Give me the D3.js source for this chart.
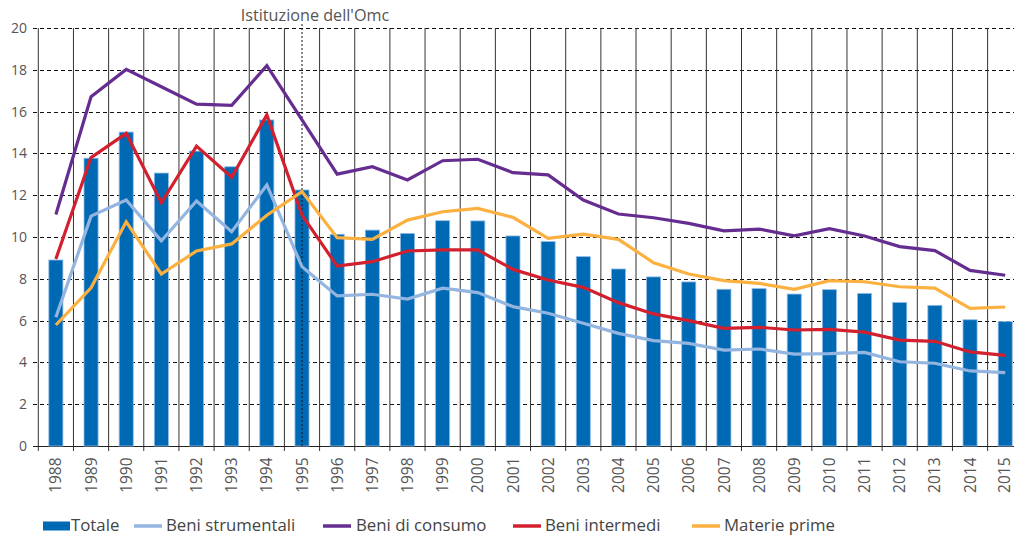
<!DOCTYPE html>
<html><head><meta charset="utf-8">
<script src="https://cdn.jsdelivr.net/npm/d3@7/dist/d3.min.js"></script>
<style>body{margin:0;background:#fff;}svg{display:block;font-family:"Open Sans",sans-serif;}</style>
</head><body><svg id="c" width="1014" height="535"></svg>
<script>
const years = ["1988","1989","1990","1991","1992","1993","1994","1995","1996","1997","1998","1999","2000","2001","2002","2003","2004","2005","2006","2007","2008","2009","2010","2011","2012","2013","2014","2015"];
const totale = [8.9,13.77,15.02,13.06,14.11,13.36,15.6,12.25,10.13,10.33,10.17,10.78,10.77,10.05,9.78,9.06,8.47,8.09,7.85,7.5,7.53,7.27,7.48,7.3,6.87,6.73,6.04,5.95];
const beniStrumentali = [6.16,11.0,11.77,9.82,11.72,10.25,12.49,8.58,7.18,7.26,7.03,7.55,7.34,6.67,6.35,5.87,5.39,5.04,4.91,4.59,4.64,4.4,4.42,4.48,4.03,3.96,3.59,3.51];
const beniConsumo = [11.08,16.71,18.02,17.19,16.36,16.3,18.2,15.6,13.01,13.36,12.73,13.65,13.72,13.08,12.97,11.77,11.1,10.92,10.65,10.29,10.38,10.06,10.4,10.05,9.54,9.35,8.4,8.17];
const beniIntermedi = [8.95,13.8,14.96,11.64,14.35,12.86,15.84,11.05,8.61,8.82,9.33,9.38,9.38,8.45,7.94,7.59,6.86,6.32,6.0,5.63,5.68,5.55,5.58,5.45,5.07,5.01,4.5,4.34];
const materiePrime = [5.79,7.57,10.73,8.23,9.33,9.67,11.04,12.17,9.97,9.89,10.81,11.21,11.37,10.94,9.94,10.14,9.89,8.77,8.23,7.91,7.78,7.5,7.91,7.86,7.62,7.55,6.59,6.65];
const yTicks = [0,2,4,6,8,10,12,14,16,18,20];
const annotationYear = "1995";
const annotationText = "Istituzione dell'Omc";

const series = [
  {name:"Beni strumentali", values:beniStrumentali, color:"#93b5e0"},
  {name:"Beni di consumo", values:beniConsumo, color:"#662d91"},
  {name:"Beni intermedi", values:beniIntermedi, color:"#d2202f"},
  {name:"Materie prime", values:materiePrime, color:"#fbb040"}
];
const barColor = "#0069b4";

const svg = d3.select("#c");
const x0 = 38.3, x1 = 38.3 + 28*35.16;
const x = d3.scaleBand().domain(years).range([x0, x1]).paddingInner(0.6).paddingOuter(0.3);
const y = d3.scaleLinear().domain([0,20]).range([446,28]);
const cx = d => x(d) + x.bandwidth()/2;

// horizontal dashed gridlines
svg.append("g").selectAll("line").data(yTicks.filter(t=>t>0)).join("line")
  .attr("x1",33).attr("x2",1014).attr("y1",d=>Math.round(y(d))+0.5).attr("y2",d=>Math.round(y(d))+0.5)
  .attr("stroke","#111").attr("stroke-width",1).attr("stroke-dasharray","4,3");

// vertical gridlines at band boundaries
const bounds = years.map(d => x(d) - x.step()*0.3);
svg.append("g").selectAll("line").data(bounds).join("line")
  .attr("x1",d=>d).attr("x2",d=>d).attr("y1",28).attr("y2",451)
  .attr("stroke","#333").attr("stroke-width",1);

// baseline
svg.append("line").attr("x1",33).attr("x2",1014).attr("y1",446.5).attr("y2",446.5).attr("stroke","#222").attr("stroke-width",1);

// bars
svg.append("g").selectAll("rect").data(years).join("rect")
  .attr("x",d=>x(d)).attr("width",x.bandwidth())
  .attr("y",(d,i)=>y(totale[i])).attr("height",(d,i)=>y(0)-y(totale[i]))
  .attr("fill",barColor).attr("stroke","#8fbbe6").attr("stroke-width",0.8);

// annotation dotted line
svg.append("line").attr("x1",cx(annotationYear)).attr("x2",cx(annotationYear)).attr("y1",24).attr("y2",446)
  .attr("stroke","#111").attr("stroke-width",1).attr("stroke-dasharray","2,2");
svg.append("text").attr("x",cx(annotationYear)+13).attr("y",20.5).attr("text-anchor","middle")
  .attr("font-size",16.2).attr("fill","#555").text(annotationText);

// lines
const line = d3.line().x((d,i)=>cx(years[i])).y(d=>y(d));
series.forEach(s=>{
  svg.append("path").attr("d",line(s.values)).attr("fill","none").attr("stroke",s.color)
    .attr("stroke-width",3.2).attr("stroke-linejoin","miter");
});

// y axis labels
svg.append("g").selectAll("text").data(yTicks).join("text")
  .attr("x",27).attr("y",d=>y(d)).attr("dy","0.36em").attr("text-anchor","end")
  .attr("font-size",14).attr("fill","#555").text(d=>d);

// x axis labels
svg.append("g").selectAll("text").data(years).join("text")
  .attr("transform",d=>`translate(${Math.min(cx(d),1004)},457.5) rotate(-90)`).attr("dy","0.36em").attr("text-anchor","end")
  .attr("font-size",15.5).attr("fill","#555").text(d=>d);

// legend
const lg = svg.append("g");
lg.append("rect").attr("x",43).attr("y",521.5).attr("width",27).attr("height",9).attr("fill",barColor);
lg.append("text").attr("x",71).attr("y",531).attr("font-size",16.8).attr("fill","#444").text("Totale");
const legendPos = [[134,166],[323,356],[513,545],[692,724]];
series.forEach((s,i)=>{
  lg.append("line").attr("x1",legendPos[i][0]).attr("x2",legendPos[i][0]+28).attr("y1",526).attr("y2",526)
    .attr("stroke",s.color).attr("stroke-width",3.5);
  lg.append("text").attr("x",legendPos[i][1]).attr("y",531).attr("font-size",16.8).attr("fill","#444").text(s.name);
});
</script></body></html>
